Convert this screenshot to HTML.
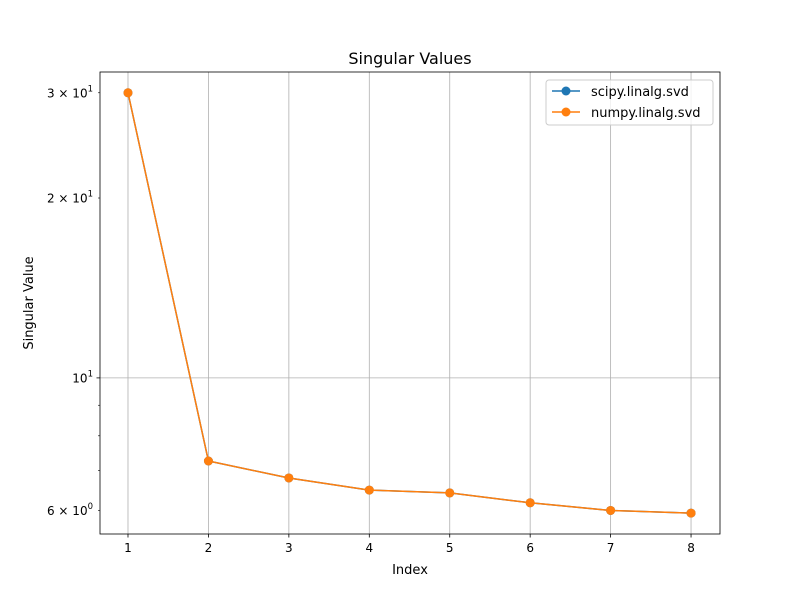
<!DOCTYPE html>
<html><head><meta charset="utf-8"><style>
body{margin:0;background:#fff;}
svg text{font-family:"DejaVu Sans","Liberation Sans",sans-serif;fill:#000;}
</style></head><body>
<svg id="chart" width="800" height="600" viewBox="0 0 800 600" xmlns="http://www.w3.org/2000/svg">
<rect width="800" height="600" fill="#fff"/>
<g id="grid"></g>
<g id="axes"></g>
<g id="series"></g>
<text x="410" y="64" font-size="16" text-anchor="middle">Singular Values</text>
<text x="410" y="574" font-size="13" text-anchor="middle">Index</text>
<text transform="translate(33,303) rotate(-90)" font-size="13" text-anchor="middle">Singular Value</text>
<g>
<rect x="546" y="80" width="167" height="45" rx="3" fill="#fff" fill-opacity="0.8" stroke="#ccc"/>
<g>
<line x1="552" y1="91" x2="580" y2="91" stroke="#1f77b4" stroke-width="1.5"/>
<circle cx="566" cy="91" r="4.5" fill="#1f77b4"/>
<text x="591" y="96" font-size="13">scipy.linalg.svd</text></g>
<g>
<line x1="552" y1="112" x2="580" y2="112" stroke="#ff7f0e" stroke-width="1.5"/>
<circle cx="566" cy="112" r="4.5" fill="#ff7f0e"/>
<text x="591" y="117" font-size="13">numpy.linalg.svd</text></g>
</g>
</svg>
<script>
const indices=[1,2,3,4,5,6,7,8];
const scipyValues=[30,7.26,6.80,6.49,6.42,6.18,6.00,5.94];
const numpyValues=[30,7.26,6.80,6.49,6.42,6.18,6.00,5.94];
const xTicks=[1,2,3,4,5,6,7,8];
const yMajor=[10];
const yMinorLabeled=[[6,"6"],[20,"2"],[30,"3"]];
const yMinor=[6,7,8,9,20,30];
const NS="http://www.w3.org/2000/svg";
const L=100,R=720,T=72,B=534,xmin=0.652,xmax=8.36,lmin=Math.log10(5.48),lmax=Math.log10(32.5);
function X(v){return L+(v-xmin)/(xmax-xmin)*(R-L);}
function Y(v){return B-(Math.log10(v)-lmin)/(lmax-lmin)*(B-T);}
function mk(tag,attrs,parent){const e=document.createElementNS(NS,tag);for(const k in attrs)e.setAttribute(k,attrs[k]);document.getElementById(parent).appendChild(e);return e;}
xTicks.forEach(t=>{
 const g=mk('line',{x1:X(t),x2:X(t),y1:T,y2:B,stroke:'#b0b0b0','stroke-width':0.8},'grid');
 
 
 const tk=mk('line',{x1:X(t),x2:X(t),y1:B,y2:B+3.5,stroke:'#000','stroke-width':0.8},'axes');
 
 
 const lb=mk('text',{x:X(t),y:B+18,'font-size':12,'text-anchor':'middle'},'axes');lb.textContent=t;
 
 
});
yMajor.forEach(t=>{
 const g=mk('line',{x1:L,x2:R,y1:Y(t),y2:Y(t),stroke:'#b0b0b0','stroke-width':0.8},'grid');
 
 
 const tk=mk('line',{x1:L-3.5,x2:L,y1:Y(t),y2:Y(t),stroke:'#000','stroke-width':0.8},'axes');
 
 
 const lb=mk('text',{x:L-7,y:Y(t)+4.5,'font-size':12,'text-anchor':'end'},'axes');
 lb.innerHTML='10<tspan dy="-6" font-size="8.5">1</tspan>';
 
 
});
yMinor.forEach(t=>{
 const tk=mk('line',{x1:L-2,x2:L,y1:Y(t),y2:Y(t),stroke:'#000','stroke-width':0.6},'axes');
 
 
});
yMinorLabeled.forEach(([v,m])=>{
 const e=v<10?'0':'1';
 const lb=mk('text',{x:L-7,y:Y(v)+4.5,'font-size':12,'text-anchor':'end'},'axes');
 lb.innerHTML=m+' \u00d7 10<tspan dy="-6" font-size="8.5">'+e+'</tspan>';
 
 
});
const fr=mk('rect',{x:L,y:T,width:R-L,height:B-T,fill:'none',stroke:'#000','stroke-width':0.8},'axes');


function series(vals,color,name){
 const pl=mk('polyline',{points:vals.map((v,i)=>X(indices[i])+','+Y(v)).join(' '),fill:'none',stroke:color,'stroke-width':1.5},'series');
 
 
 vals.forEach((v,i)=>{
  const c=mk('circle',{cx:X(indices[i]),cy:Y(v),r:4.5,fill:color},'series');
  
  
 });
}
series(scipyValues,'#1f77b4','scipy');
series(numpyValues,'#ff7f0e','numpy');
</script>
</body></html>
